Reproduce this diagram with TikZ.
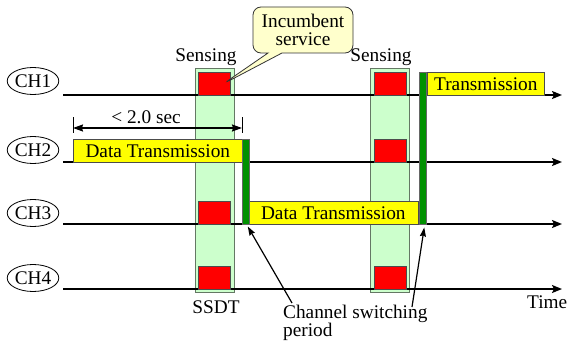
\documentclass[tikz,border=0pt]{standalone}
\usepackage{fontspec}
\setmainfont{Liberation Serif}
\usetikzlibrary{arrows.meta,shapes.geometric,shapes.callouts}

\definecolor{bandfill}{RGB}{204,255,204}
\definecolor{bandedge}{RGB}{100,120,100}
\definecolor{sigred}{RGB}{255,0,0}
\definecolor{txyellow}{RGB}{255,255,0}
\definecolor{swgreen}{RGB}{0,145,0}
\definecolor{notefill}{RGB}{255,255,204}

\begin{document}
\begin{tikzpicture}[x=1pt,y=-1pt,
  every node/.style={font=\fontsize{19.3}{18}\selectfont},
  chlabel/.style={draw, ellipse, fill=white, line width=0.8pt,
    minimum width=50pt, minimum height=27pt, inner sep=0pt},
  timeline/.style={line width=1.7pt, -{Stealth[length=10pt,width=8pt,inset=2pt]}},
  senseband/.style={draw=bandedge, fill=bandfill, line width=0.8pt,
    minimum width=39pt, minimum height=224pt, inner sep=0pt, anchor=north west},
  incumbent/.style={draw=black!70, fill=sigred, line width=0.6pt,
    minimum width=32pt, minimum height=23pt, inner sep=0pt, anchor=north west},
  txbox/.style={draw=black!70, fill=txyellow, line width=0.6pt,
    minimum height=23pt, inner sep=0pt, anchor=north west},
  swbar/.style={draw=black!60, fill=swgreen, line width=0.5pt,
    minimum width=7pt, inner sep=0pt, anchor=north west},
  pointer/.style={line width=1.2pt, -{Stealth[length=9pt,width=6pt,inset=1pt]}},
  dimline/.style={line width=1.5pt, {Stealth[length=10pt,width=7pt,inset=1pt]}-{Stealth[length=10pt,width=7pt,inset=1pt]}},
  note/.style={rectangle callout, draw=black!80, fill=notefill, line width=0.8pt,
    rounded corners=8pt, minimum width=100pt, minimum height=46pt,
    inner sep=0pt, align=center, callout pointer width=14pt}
]
\useasboundingbox (0,0) rectangle (567,345);

% sensing periods
\node[senseband] (band1) at (195,68) {};
\node[senseband] (band2) at (370,68) {};

% channel labels and time axes
\node[chlabel] (ch1) at (33,81) {CH1};
\node[chlabel] (ch2) at (33,150) {CH2};
\node[chlabel] (ch3) at (33,213) {CH3};
\node[chlabel] (ch4) at (33,278) {CH4};

\coordinate (a1) at (63,95);  \coordinate (b1) at (562,95);
\coordinate (a2) at (63,162); \coordinate (b2) at (562,162);
\coordinate (a3) at (63,224); \coordinate (b3) at (562,224);
\coordinate (a4) at (63,289); \coordinate (b4) at (562,289);
\foreach \i in {1,...,4} \draw[timeline] (a\i) -- (b\i);

% incumbent signals detected while sensing
\node[incumbent] (r11) at (198,72) {};
\node[incumbent] (r13) at (198,201) {};
\node[incumbent] (r14) at (198,266) {};
\node[incumbent] (r21) at (374,72) {};
\node[incumbent] (r22) at (374,139) {};
\node[incumbent] (r24) at (374,266) {};

% data transmissions
\node[txbox, minimum width=169pt] (tx2) at (73,139) {Data Transmission};
\node[txbox, minimum width=170pt] (tx3) at (248,201) {Data Transmission};
\node[txbox, minimum width=117pt] (tx1) at (427,72) {Transmission};

% channel switching periods
\node[swbar, minimum height=85pt] (g1) at (242,139) {};
\node[swbar, minimum height=152pt] (g2) at (419,72) {};

% labels
\node (sen1) at (206,57) {Sensing};
\node (sen2) at (381,57) {Sensing};
\node (ssdt) at (216,307) {SSDT};
\node[anchor=west, inner sep=0pt] (time) at (527,302) {Time};

% maximum interval between sensing periods
\coordinate (d1) at (73,117);  \coordinate (d1b) at (73,133);
\coordinate (d2) at (242,117); \coordinate (d2b) at (242,133);
\draw[line width=0.8pt] (d1) -- (d1b);
\draw[line width=0.8pt] (d2) -- (d2b);
\draw[dimline] (73,128) -- (242,128);
\node (lim) at (146,117) {< 2.0 sec};

% callout on the incumbent service
\node[note, callout absolute pointer={(223,84)}] (inc) at (303,30)
  {Incumbent\\service};

% switching period annotation
\node[anchor=north west, inner sep=0pt, align=left] (csp) at (283,305)
  {Channel switching\\period};
\coordinate (t1) at (292,303);
\coordinate (t2) at (412,307);
\draw[pointer] (t1) -- ([shift={(2,2)}]g1.south);
\draw[pointer] (t2) -- ([shift={(1.5,3)}]g2.south);
\end{tikzpicture}
\end{document}
